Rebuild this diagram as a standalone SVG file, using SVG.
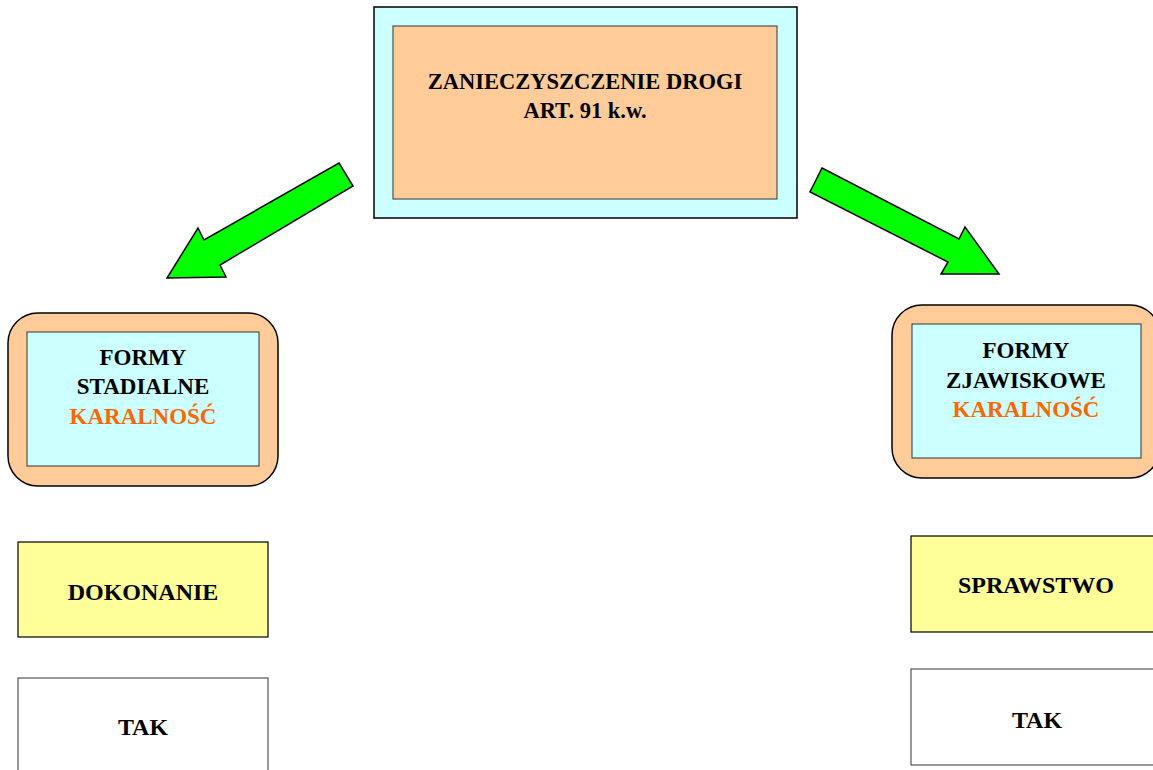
<svg xmlns="http://www.w3.org/2000/svg" width="1153" height="770" viewBox="0 0 1153 770">
<style>
text{font-family:"Liberation Serif","Times New Roman",serif;font-weight:bold;fill:#000;text-anchor:middle}
.t22{font-size:22.5px}
.t23{font-size:23px}
.t24{font-size:24px}
.or{fill:#FF6600}
.cyan{fill:#CCFFFF;stroke:#000;stroke-width:1.5}
.peach{fill:#FFCC99;stroke:#000;stroke-width:1.5}
.inner{stroke:#333;stroke-width:1}
.yel{fill:#FFFF99;stroke:#000;stroke-width:1.2}
.wht{fill:#FFFFFF;stroke:#555;stroke-width:1.2}
.arrow{fill:#00FF00;stroke:#000;stroke-width:1.5;stroke-linejoin:miter}
</style>
<rect width="1153" height="770" fill="#fff"/>
<g id="top">
<rect class="cyan" x="374" y="7" width="423" height="211"/>
<rect class="peach inner" x="393" y="26" width="384" height="173"/>
<text class="t22" x="585" y="89">ZANIECZYSZCZENIE DROGI</text>
<text class="t22" x="585" y="118">ART. 91 k.w.</text>
</g>
<g id="connectors">
<polygon class="arrow" points="339,163 353,186 220,265 226,277 167,278 198,228 204,240"/>
<polygon class="arrow" points="822,168 959,239 965,227 999,274 941,274 948,262 810,192"/>
</g>
<g id="stadialne">
<rect class="peach" x="8" y="313" width="270" height="173" rx="30" ry="30"/>
<rect class="cyan inner" x="27" y="332" width="232" height="134"/>
<text class="t23" x="143" y="365">FORMY</text>
<text class="t23" x="143" y="394">STADIALNE</text>
<text class="t23 or" x="143" y="424">KARALNOŚĆ</text>
</g>
<g id="zjawiskowe">
<rect class="peach" x="892" y="305" width="268" height="173" rx="30" ry="30"/>
<rect class="cyan inner" x="912" y="324" width="229" height="134"/>
<text class="t23" x="1026" y="358">FORMY</text>
<text class="t23" x="1026" y="388">ZJAWISKOWE</text>
<text class="t23 or" x="1026" y="417">KARALNOŚĆ</text>
</g>
<g id="dokonanie">
<rect class="yel" x="18" y="542" width="250" height="95"/>
<text class="t24" x="143" y="600">DOKONANIE</text>
</g>
<g id="tak-left">
<rect class="wht" x="18" y="678" width="250" height="100"/>
<text class="t24" x="143" y="735">TAK</text>
</g>
<g id="sprawstwo">
<rect class="yel" x="911" y="536" width="250" height="96"/>
<text class="t24" x="1036" y="593">SPRAWSTWO</text>
</g>
<g id="tak-right">
<rect class="wht" x="911" y="669" width="250" height="96"/>
<text class="t24" x="1037" y="728">TAK</text>
</g>
</svg>
